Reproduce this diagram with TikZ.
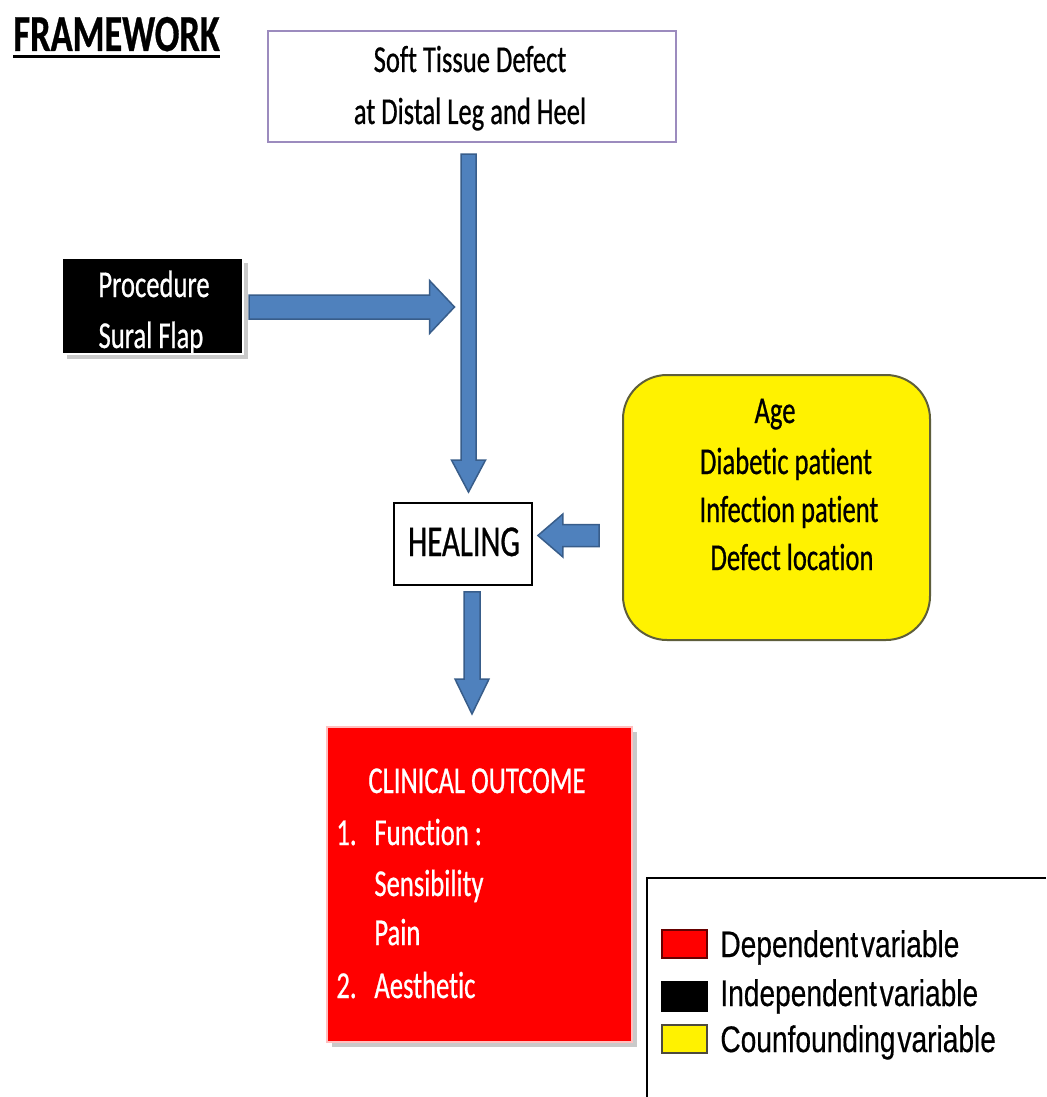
\documentclass[tikz,border=0pt]{standalone}
\usepackage{fontspec}
\setmainfont{Carlito}[FakeStretch=0.7,FakeBold=0.6,Ligatures={NoCommon}]
\newfontfamily\legendfont{Liberation Sans}[FakeStretch=0.76,FakeBold=0.4]
\usetikzlibrary{calc,shadows,fit}
\definecolor{arrowfill}{HTML}{4F81BD}
\definecolor{arrowline}{HTML}{385D8A}
\definecolor{topline}{HTML}{9C8BBE}
\definecolor{yellowline}{HTML}{5E5E3B}
\newcommand\blockarrow[5]{%
  \draw[blockarr]
    ($(#1)!#3!90:(#2)$) --
    ($(#2)!#5!(#1)!#3!90:(#2)$) --
    ($(#2)!#5!(#1)!#4!90:(#2)$) --
    (#2) --
    ($(#2)!#5!(#1)!#4!-90:(#2)$) --
    ($(#2)!#5!(#1)!#3!-90:(#2)$) --
    ($(#1)!#3!-90:(#2)$) -- cycle;}
\begin{document}
\begin{tikzpicture}[x=0.5pt,y=-0.5pt,
  txt/.style={inner sep=0pt,font=\fontsize{19pt}{24pt}\selectfont},
  blockarr/.style={draw=arrowline,fill=arrowfill,line width=0.75pt,line join=miter},
  shadowed/.style={drop shadow={shadow xshift=2.5pt,shadow yshift=-2.5pt,opacity=0.35,fill=black!60}},
  swatch/.style={line width=1pt,inner sep=0pt}]
\useasboundingbox (0,0) rectangle (1046,1097);
\fill[white] (0,0) rectangle (1046,1097);

% title
\node[anchor=base west,inner sep=0pt,font=\fontsize{26pt}{30pt}\selectfont\bfseries] (title) at (13,51) {FRAMEWORK};
\draw[line width=1.5pt] (title.base west |- 0,57) -- (title.base east |- 0,57);

% top box
\node[fit={(268,31)(676,142)},inner sep=0pt,draw=topline,line width=1pt,fill=white] (defect) {};
\node[txt,anchor=base] (d1) at (470,72) {Soft Tissue Defect};
\node[txt,anchor=base] (d2) at (470,124) {at Distal Leg and Heel};

% procedure
\node[fit={(62,258)(243,354)},inner sep=0pt,fill=black,draw=white,line width=1pt,shadowed] (proc) {};
\node[txt,anchor=base,text=white] (p1) at (154,297) {Procedure};
\node[txt,anchor=base,text=white] (p2) at (151,348) {Sural Flap};

% confounders
\node[fit={(623,375)(930,640)},inner sep=0pt,fill=yellow,draw=yellowline,line width=1pt,rounded corners=22pt] (conf) {};
\node[txt,anchor=base] (c1) at (775,423) {Age};
\node[txt,anchor=base] (c2) at (786,474) {Diabetic patient};
\node[txt,anchor=base] (c3) at (789,522) {Infection patient};
\node[txt,anchor=base] (c4) at (792,570) {Defect location};

% healing
\node[fit={(394,503)(532,585)},inner sep=0pt,fill=white,draw=black,line width=0.9pt] (heal) {};
\node[inner sep=0pt,anchor=base,font=\fontsize{22pt}{26pt}\selectfont] (h1) at (464,556) {HEALING};

% clinical outcome
\node[fit={(327,727)(632,1042)},inner sep=0pt,fill=red,draw=red!25,line width=1pt,shadowed] (clin) {};
\begin{scope}[every node/.style={txt,text=white}]
\node[anchor=base] (o0) at (477,793) {CLINICAL OUTCOME};
\node[anchor=base west] (o1n) at (336,845) {1.};
\node[anchor=base west] (o1) at (374,845) {Function :};
\node[anchor=base west] (o2) at (374,896) {Sensibility};
\node[anchor=base west] (o3) at (374,945) {Pain};
\node[anchor=base west] (o4n) at (336,998) {2.};
\node[anchor=base west] (o4) at (374,998) {Aesthetic};
\end{scope}

% arrows
\coordinate (a1s) at ($(defect.south)+(-3.5,11)$);
\coordinate (a1t) at ($(a1s |- heal.north)+(0,-10)$);
\blockarrow{a1s}{a1t}{3.75pt}{8.5pt}{16pt}
\coordinate (a2s) at ($(proc.east)+(5,1)$);
\coordinate (a2t) at ($(a2s -| a1s)+(-14,0)$);
\blockarrow{a2s}{a2t}{6pt}{13.25pt}{12.5pt}
\coordinate (a3s) at ($(conf.west)+(-23,28)$);
\coordinate (a3t) at ($(a3s -| heal.east)+(5,0)$);
\blockarrow{a3s}{a3t}{5.5pt}{10.75pt}{12.5pt}
\coordinate (a4s) at ($(heal.south)+(9,6)$);
\coordinate (a4t) at ($(a4s |- clin.north)+(0,-12)$);
\blockarrow{a4s}{a4t}{4pt}{8.5pt}{17.5pt}

% legend
\draw[line width=0.9pt] (647,1097) -- (647,878) -- (1046,878);
\node[swatch,fit={(662,930)(707,958)},fill=red,draw=red!40!black] (s1) {};
\node[swatch,fit={(662,982)(707,1011)},fill=black,draw=black] (s2) {};
\node[swatch,fit={(662,1025)(707,1053)},fill=yellow,draw=black!80!yellow] (s3) {};
\begin{scope}[every node/.style={inner sep=0pt,anchor=base west,font=\legendfont\fontsize{18.5pt}{22pt}\selectfont}]
\node (l1) at (720,957) {Dependent\hspace{1.5pt}variable};
\node (l2) at (720,1006) {Independent\hspace{1.5pt}variable};
\node (l3) at (720,1052) {Counfounding\hspace{1pt}variable};
\end{scope}
\end{tikzpicture}
\end{document}
